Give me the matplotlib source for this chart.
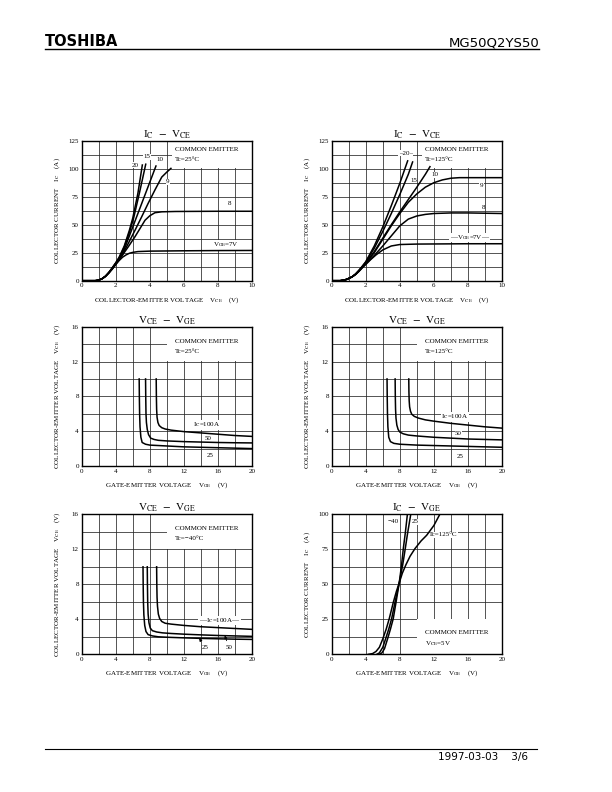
import numpy as np
import matplotlib
matplotlib.use('Agg')
import matplotlib.pyplot as plt
from matplotlib.patches import Rectangle

plt.rcParams['font.family'] = ['Liberation Serif', 'DejaVu Serif']
plt.rcParams['mathtext.fontset'] = 'stix'

# ---- IC - VCE, Tc = 25C  (x: VCE [V], y: IC [A])
p1_v7_x = [0, 0.8, 1.0, 1.2, 1.4, 1.6, 1.8, 2.0, 2.2, 2.4, 2.6, 2.8, 3.0, 3.3, 4.0, 6.0, 8.0, 10.0]
p1_v7_y = [0, 0, 0.5, 1.8, 4, 7, 10.5, 14.5, 18, 21, 23, 24.5, 25.3, 26, 26.4, 26.7, 26.9, 27]
p1_v8_x = [0, 0.8, 1.0, 1.2, 1.4, 1.6, 1.8, 2.0, 2.2, 2.4, 2.74, 3.13, 3.4, 3.72, 4.0, 4.3, 4.7, 5.5, 8.0, 10.0]
p1_v8_y = [0, 0, 0.5, 1.8, 4, 7, 10.5, 14.5, 19, 23, 30.4, 39.3, 46, 54, 58, 60.7, 61.5, 61.8, 62, 62]
p1_v9_x = [0, 0.8, 1.0, 1.2, 1.4, 1.6, 1.8, 2.0, 2.2, 2.35, 2.74, 3.13, 3.52, 3.9, 4.3, 4.7, 5.0, 5.24]
p1_v9_y = [0, 0, 0.5, 1.8, 4, 7.2, 11, 15, 19.5, 22, 33.4, 45, 57, 69, 81, 92.5, 97, 100.3]
p1_v10_x = [0, 0.8, 1.0, 1.2, 1.4, 1.6, 1.8, 2.0, 2.2, 2.5, 3.0, 3.5, 4.0, 4.36]
p1_v10_y = [0, 0, 0.5, 1.8, 4, 7.3, 11.2, 15.5, 20, 28, 48, 68, 88, 102.4]
p1_v15_x = [0, 0.8, 1.0, 1.2, 1.4, 1.6, 1.8, 2.0, 2.2, 2.5, 2.8, 3.05, 3.4, 3.76]
p1_v15_y = [0, 0, 0.5, 1.8, 4, 7.4, 11.5, 15.8, 20.5, 30, 43, 56, 79, 104]
p1_v20_x = [0, 0.8, 1.0, 1.2, 1.4, 1.6, 1.8, 2.0, 2.2, 2.5, 2.8, 3.0, 3.3, 3.56]
p1_v20_y = [0, 0, 0.5, 1.8, 4, 7.5, 11.7, 16, 21, 31, 45, 56, 78, 103.3]

# ---- IC - VCE, Tc = 125C
p2_v7_x = [0, 0.5, 0.8, 1.0, 1.2, 1.4, 1.6, 1.8, 2.0, 2.3, 2.6, 3.0, 3.5, 4.0, 5.0, 6.0, 8.0, 10.0]
p2_v7_y = [0, 0, 0.8, 2, 3.5, 5.5, 8.3, 11.5, 14.5, 19, 23, 27.5, 31, 32.3, 32.7, 32.8, 33, 33]
p2_v8_x = [0, 0.5, 0.8, 1.0, 1.2, 1.4, 1.6, 1.8, 2.0, 2.5, 3.0, 3.5, 4.0, 4.5, 5.0, 5.5, 6.0, 7.0, 8.0, 10.0]
p2_v8_y = [0, 0, 0.8, 2, 3.5, 5.6, 8.5, 12, 15, 22.5, 31, 40, 49, 55, 57.8, 59.2, 60, 60.5, 60.5, 60]
p2_v9_x = [0, 0.5, 0.8, 1.0, 1.2, 1.4, 1.6, 1.8, 2.0, 2.5, 3.0, 3.5, 4.0, 4.5, 5.0, 5.5, 6.0, 6.5, 7.0, 7.5, 8.0, 10.0]
p2_v9_y = [0, 0, 0.8, 2, 3.5, 5.7, 8.7, 12.2, 15.5, 25, 37, 49, 60, 70, 77.5, 83.5, 87.5, 90, 91.5, 92, 92, 92]
p2_v10_x = [0, 0.5, 0.8, 1.0, 1.2, 1.4, 1.6, 1.8, 2.0, 2.5, 3.0, 3.5, 4.0, 4.5, 5.0, 5.5, 5.77]
p2_v10_y = [0, 0, 0.8, 2, 3.5, 5.8, 8.9, 12.5, 16, 26, 38, 50, 61.5, 72.5, 83.5, 95, 101.8]
p2_v15_x = [0, 0.5, 0.8, 1.0, 1.2, 1.4, 1.6, 1.8, 2.0, 2.5, 3.0, 3.5, 4.0, 4.5, 4.75]
p2_v15_y = [0, 0, 0.8, 2, 3.5, 5.9, 9.1, 12.8, 16.5, 29, 44, 60, 77, 95, 106]
p2_v20_x = [0, 0.5, 0.8, 1.0, 1.2, 1.4, 1.6, 1.8, 2.0, 2.5, 3.0, 3.5, 4.0, 4.46]
p2_v20_y = [0, 0, 0.8, 2, 3.5, 6, 9.3, 13, 17, 31, 48, 67, 87, 107]

# ---- VCE - VGE, Tc = 25C  (x: VGE [V], y: VCE [V])
p3_i25_x = [6.75, 6.77, 6.8, 6.85, 6.95, 7.1, 7.5, 8, 10, 12, 14, 16, 18, 20]
p3_i25_y = [10, 8, 6, 4.5, 3.3, 2.7, 2.5, 2.4, 2.3, 2.2, 2.15, 2.1, 2.05, 2.0]
p3_i50_x = [7.5, 7.52, 7.55, 7.6, 7.7, 7.85, 8.1, 8.5, 9, 10, 12, 14, 16, 18, 20]
p3_i50_y = [10, 8, 6, 5, 4.2, 3.6, 3.2, 3.05, 2.95, 2.88, 2.8, 2.75, 2.7, 2.67, 2.65]
p3_i100_x = [8.75, 8.77, 8.8, 8.85, 8.95, 9.1, 9.4, 9.8, 10.5, 12, 14, 16, 18, 20]
p3_i100_y = [10, 8, 6.5, 5.6, 5, 4.65, 4.4, 4.25, 4.12, 3.95, 3.8, 3.65, 3.5, 3.4]

# ---- VCE - VGE, Tc = 125C
p4_i25_x = [6.5, 6.52, 6.55, 6.6, 6.7, 6.9, 7.3, 8, 10, 12, 14, 16, 18, 20]
p4_i25_y = [10, 8, 6, 4.5, 3.3, 2.8, 2.6, 2.5, 2.4, 2.35, 2.3, 2.25, 2.2, 2.15]
p4_i50_x = [7.45, 7.47, 7.5, 7.55, 7.65, 7.8, 8.0, 8.4, 9, 10, 12, 14, 16, 18, 20]
p4_i50_y = [10, 8, 6.5, 5.5, 4.7, 4.2, 3.9, 3.7, 3.55, 3.45, 3.3, 3.2, 3.1, 3.05, 3.0]
p4_i100_x = [9.05, 9.07, 9.1, 9.15, 9.25, 9.4, 9.7, 10.2, 11, 12, 14, 16, 18, 20]
p4_i100_y = [10, 8.5, 7.5, 6.8, 6.3, 5.95, 5.7, 5.5, 5.3, 5.15, 4.9, 4.7, 4.5, 4.35]

# ---- VCE - VGE, Tc = -40C
p5_i25_x = [7.2, 7.22, 7.25, 7.3, 7.4, 7.55, 7.8, 8.3, 9, 10, 12, 14, 16, 18, 20]
p5_i25_y = [10, 8, 6, 4.5, 3.3, 2.6, 2.25, 2.1, 2.0, 1.95, 1.88, 1.82, 1.77, 1.73, 1.7]
p5_i50_x = [7.7, 7.72, 7.75, 7.8, 7.9, 8.05, 8.3, 8.8, 9.5, 10.5, 12, 14, 16, 18, 20]
p5_i50_y = [10, 8, 6, 4.6, 3.6, 3.0, 2.7, 2.55, 2.45, 2.38, 2.3, 2.22, 2.15, 2.1, 2.05]
p5_i100_x = [8.8, 8.82, 8.85, 8.9, 9.0, 9.15, 9.4, 9.8, 10.5, 12, 14, 16, 18, 20]
p5_i100_y = [10, 8, 6.5, 5.5, 4.6, 4.1, 3.75, 3.55, 3.45, 3.3, 3.15, 3.05, 2.95, 2.85]

# ---- IC - VGE, VCE = 5V  (x: VGE [V], y: IC [A])
p6_t125_x = [4.3, 4.8, 5.2, 5.6, 6.0, 6.4, 6.76, 7.23, 7.6, 7.93, 8.3, 8.72, 9.2, 9.78, 10.5, 11.15, 12.0, 12.7]
p6_t125_y = [0, 0.5, 2, 5, 11, 18, 25.5, 37, 45, 51, 58, 64, 70, 75.5, 81, 85, 92, 100]
p6_t25_x = [5.3, 5.6, 6.0, 6.34, 6.7, 7.04, 7.43, 7.93, 8.33, 8.64, 8.9, 9.27]
p6_t25_y = [0, 1, 5, 11.2, 18, 25.5, 37, 51, 63.6, 75.5, 86, 99.5]
p6_tm40_x = [5.6, 5.9, 6.2, 6.57, 6.9, 7.23, 7.55, 7.93, 8.2, 8.41, 8.65, 8.88]
p6_tm40_y = [0, 1, 4, 11.2, 18, 25.5, 37, 51, 63.6, 75.5, 87, 99.5]

W, H = 612, 792
fig = plt.figure(figsize=(6.12, 7.92), dpi=100)
LW = 1.1


def place(left, top, w=170.3, h=140):
    return fig.add_axes([left / W, 1 - (top + h) / H, w / W, h / H])


def setup(ax, xmax, xgrid, xticks, ymax, ygrid, yticks, title, xlabel, ylabel, box):
    ax.set_xlim(0, xmax)
    ax.set_ylim(0, ymax)
    ax.set_xticks(xticks)
    ax.set_yticks(yticks)
    ax.set_xticks(np.arange(0, xmax + 1e-6, xgrid), minor=True)
    ax.set_yticks(np.arange(0, ymax + 1e-6, ygrid), minor=True)
    ax.set_axisbelow(True)
    ax.grid(True, which='both', color='0.15', lw=0.55)
    ax.tick_params(which='both', length=0, labelsize=5, pad=2)
    for s in ax.spines.values():
        s.set_linewidth(1.0)
    # blank area behind the condition text
    ax.add_patch(Rectangle((box[0], box[1]), box[2] - box[0], box[3] - box[1],
                           fc='white', ec='none', zorder=1))
    ax.set_title(title, fontsize=8, pad=2)
    ax.text(0.5, -0.138, xlabel, transform=ax.transAxes, ha='center', va='center', fontsize=5)
    ax.text(-0.147, 0.5, ylabel, transform=ax.transAxes, ha='center', va='center',
            rotation=90, fontsize=5)


def lbl(ax, x, y, s, ha='center', bg=True):
    # labels sit above the grid but under the curves
    kw = dict(fontsize=5, ha=ha, va='center', zorder=1.5)
    if bg:
        kw['bbox'] = dict(fc='white', ec='none', pad=0.3)
    ax.text(x, y, s, **kw)


icvce_t = r'I$_{\rm C}$  $-$  V$_{\rm CE}$'
vcevge_t = r'V$_{\rm CE}$  $-$  V$_{\rm GE}$'
icvge_t = r'I$_{\rm C}$  $-$  V$_{\rm GE}$'
xl_ce = r'COLLECTOR-EMITTER VOLTAGE    V$_{\rm CE}$    (V)'
yl_ic = r'COLLECTOR CURRENT    I$_{\rm C}$    (A)'
xl_ge = r'GATE-EMITTER VOLTAGE    V$_{\rm GE}$    (V)'
yl_ce = r'COLLECTOR-EMITTER VOLTAGE    V$_{\rm CE}$    (V)'

# ---------------- panel 1
ax = place(81.7, 140.7)
setup(ax, 10, 1, [0, 2, 4, 6, 8, 10], 125, 12.5, [0, 25, 50, 75, 100, 125],
      icvce_t, xl_ce, yl_ic, (5.3, 100.4, 10, 125))
for xs, ys in [(p1_v7_x, p1_v7_y), (p1_v8_x, p1_v8_y), (p1_v9_x, p1_v9_y),
               (p1_v10_x, p1_v10_y), (p1_v15_x, p1_v15_y), (p1_v20_x, p1_v20_y)]:
    ax.plot(xs, ys, color='black', lw=LW, zorder=2)
lbl(ax, 3.13, 103.3, '20')
lbl(ax, 3.82, 110.7, '15')
lbl(ax, 4.6, 108.4, '10')
lbl(ax, 5.05, 88.4, '9')
lbl(ax, 8.7, 69, '8')
lbl(ax, 8.5, 32, r'V$_{\rm GE}$=7V')
lbl(ax, 5.48, 117.3, 'COMMON EMITTER', ha='left', bg=False)
lbl(ax, 5.48, 108.4, 'Tc=25°C', ha='left', bg=False)

# ---------------- panel 2
ax = place(331.7, 140.7)
setup(ax, 10, 1, [0, 2, 4, 6, 8, 10], 125, 12.5, [0, 25, 50, 75, 100, 125],
      icvce_t, xl_ce, yl_ic, (5.3, 100.4, 10, 125))
for xs, ys in [(p2_v7_x, p2_v7_y), (p2_v8_x, p2_v8_y), (p2_v9_x, p2_v9_y),
               (p2_v10_x, p2_v10_y), (p2_v15_x, p2_v15_y), (p2_v20_x, p2_v20_y)]:
    ax.plot(xs, ys, color='black', lw=LW, zorder=2)
lbl(ax, 4.35, 113.7, '–20–')
lbl(ax, 4.8, 89.9, '15')
lbl(ax, 6.07, 94.4, '10')
lbl(ax, 8.8, 85.4, '9')
lbl(ax, 8.9, 65.5, '8')
lbl(ax, 8.1, 38.5, r'—V$_{\rm GE}$=7V—')
lbl(ax, 5.48, 117.3, 'COMMON EMITTER', ha='left', bg=False)
lbl(ax, 5.48, 108.4, 'Tc=125°C', ha='left', bg=False)

# ---------------- panel 3
ax = place(81.7, 326.7, h=139.3)
setup(ax, 20, 2, [0, 4, 8, 12, 16, 20], 16, 2, [0, 4, 8, 12, 16],
      vcevge_t, xl_ge, yl_ce, (10.05, 12.05, 20, 16))
for xs, ys in [(p3_i25_x, p3_i25_y), (p3_i50_x, p3_i50_y), (p3_i100_x, p3_i100_y)]:
    ax.plot(xs, ys, color='black', lw=LW, zorder=2)
lbl(ax, 14.7, 4.75, r'I$_{\rm C}$=100A')
lbl(ax, 14.9, 3.15, '50')
lbl(ax, 15.1, 1.2, '25')
lbl(ax, 10.96, 14.3, 'COMMON EMITTER', ha='left', bg=False)
lbl(ax, 10.96, 13.1, 'Tc=25°C', ha='left', bg=False)

# ---------------- panel 4
ax = place(331.7, 326.7, h=139.3)
setup(ax, 20, 2, [0, 4, 8, 12, 16, 20], 16, 2, [0, 4, 8, 12, 16],
      vcevge_t, xl_ge, yl_ce, (10.05, 12.05, 20, 16))
for xs, ys in [(p4_i25_x, p4_i25_y), (p4_i50_x, p4_i50_y), (p4_i100_x, p4_i100_y)]:
    ax.plot(xs, ys, color='black', lw=LW, zorder=2)
lbl(ax, 14.5, 5.65, r'I$_{\rm C}$=100A')
lbl(ax, 14.9, 3.7, '50')
lbl(ax, 15.1, 1.1, '25')
lbl(ax, 10.96, 14.3, 'COMMON EMITTER', ha='left', bg=False)
lbl(ax, 10.96, 13.1, 'Tc=125°C', ha='left', bg=False)

# ---------------- panel 5
ax = place(81.7, 514.3)
setup(ax, 20, 2, [0, 4, 8, 12, 16, 20], 16, 2, [0, 4, 8, 12, 16],
      vcevge_t, xl_ge, yl_ce, (10.05, 12.05, 20, 16))
for xs, ys in [(p5_i25_x, p5_i25_y), (p5_i50_x, p5_i50_y), (p5_i100_x, p5_i100_y)]:
    ax.plot(xs, ys, color='black', lw=LW, zorder=2)
lbl(ax, 16.2, 3.85, r'—I$_{\rm C}$=100A—')
ax.annotate('25', xy=(13.8, 1.82), xytext=(14.5, 0.8), fontsize=5, ha='center', va='center',
            arrowprops=dict(arrowstyle='-|>', lw=0.6, color='black', mutation_scale=4, shrinkA=1, shrinkB=0))
ax.annotate('50', xy=(16.8, 2.15), xytext=(17.3, 0.8), fontsize=5, ha='center', va='center',
            arrowprops=dict(arrowstyle='-|>', lw=0.6, color='black', mutation_scale=4, shrinkA=1, shrinkB=0))
lbl(ax, 10.96, 14.4, 'COMMON EMITTER', ha='left', bg=False)
lbl(ax, 10.96, 13.2, 'Tc=−40°C', ha='left', bg=False)

# ---------------- panel 6
ax = place(331.7, 514.3)
setup(ax, 20, 2, [0, 4, 8, 12, 16, 20], 100, 12.5, [0, 25, 50, 75, 100],
      icvge_t, xl_ge, yl_ic, (10.05, 0.3, 20, 24.9))
for xs, ys in [(p6_t125_x, p6_t125_y), (p6_t25_x, p6_t25_y), (p6_tm40_x, p6_tm40_y)]:
    ax.plot(xs, ys, color='black', lw=LW, zorder=2)
lbl(ax, 7.2, 94.5, '−40')
lbl(ax, 9.8, 94.5, '25')
lbl(ax, 11.4, 85.5, 'Tc=125°C', ha='left')
lbl(ax, 10.96, 15.5, 'COMMON EMITTER', ha='left', bg=False)
lbl(ax, 10.96, 7.4, r'V$_{\rm CE}$=5V', ha='left', bg=False)

# ---------------- page header / footer
fig.text(45 / W, 1 - 42 / H, 'TOSHIBA', fontsize=10.5, fontweight='bold',
         family='DejaVu Sans', ha='left', va='center')
fig.text(539 / W, 1 - 42.5 / H, 'MG50Q2YS50', fontsize=9.5, family='DejaVu Sans',
         ha='right', va='center')
fig.add_artist(plt.Line2D([45 / W, 539 / W], [1 - 49 / H, 1 - 49 / H], color='black', lw=1.0))
fig.add_artist(plt.Line2D([45 / W, 537 / W], [1 - 749 / H, 1 - 749 / H], color='black', lw=0.8))
fig.text(528 / W, 1 - 757 / H, '1997-03-03    3/6', fontsize=7.5, family='DejaVu Sans',
         ha='right', va='center')

fig.savefig('out.png', dpi=100)
